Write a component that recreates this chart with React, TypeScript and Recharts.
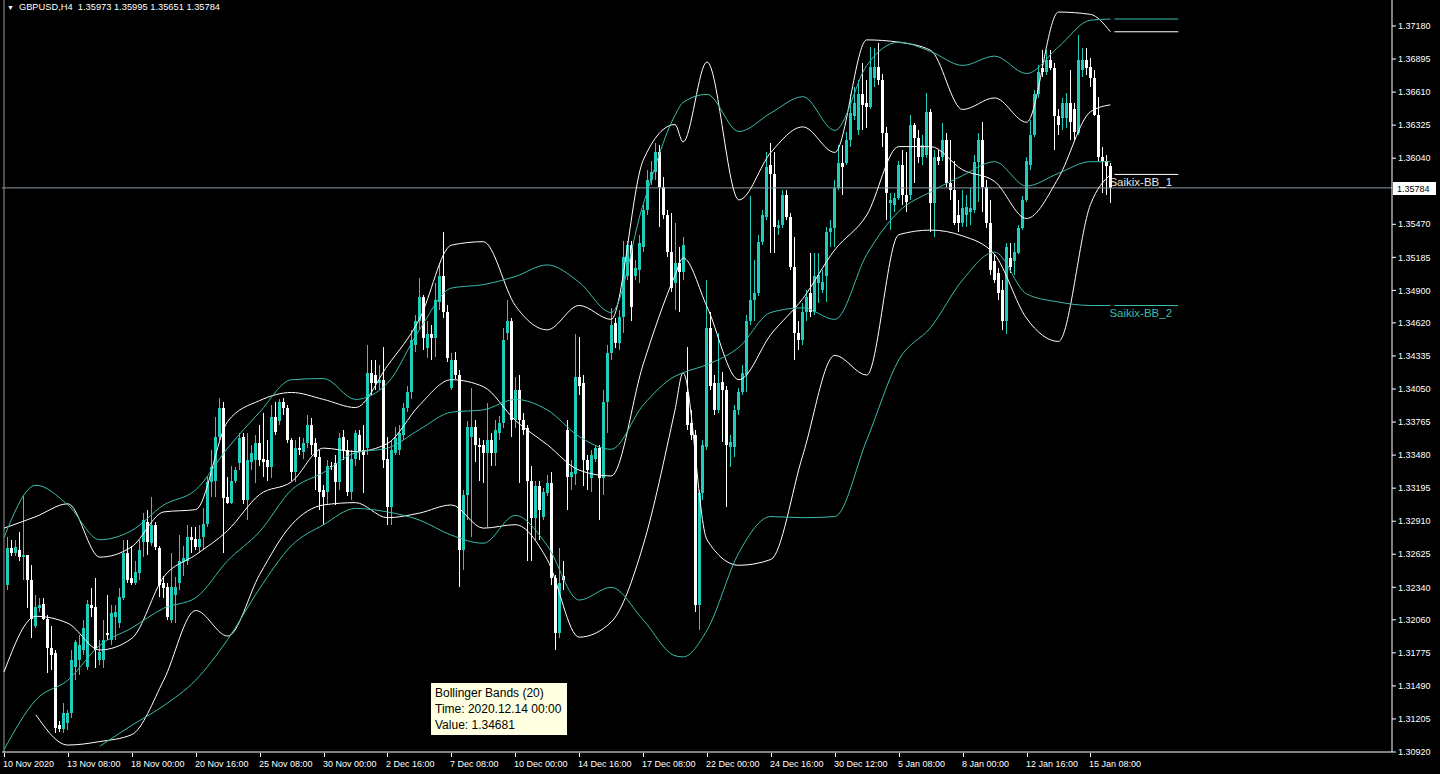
import { ComposedChart, Bar, Line, XAxis, YAxis, ReferenceLine } from 'recharts'

const SYMBOL = 'GBPUSD,H4'
const TEAL = '#20cdbd'
const TEAL_LINE = '#3cbcae'
const WHITE = '#ffffff'
const PRICE_LINE = '#8e9aa6'

// H4 candles, 10 Nov 2020 -> 18 Jan 2021
const opens = [
  1.3236, 1.3268, 1.3264, 1.3266, 1.326, 1.3262, 1.324, 1.3201, 1.3216, 1.322,
  1.3207, 1.3182, 1.3177, 1.3115, 1.3112, 1.3117, 1.3126, 1.3165, 1.3171, 1.318,
  1.3165, 1.3219, 1.3217, 1.3171, 1.3171, 1.3195, 1.3189, 1.3208, 1.3203, 1.3225,
  1.3264, 1.3242, 1.3238, 1.3246, 1.3273, 1.329, 1.3272, 1.3288, 1.3268, 1.3238,
  1.3234, 1.3206, 1.3227, 1.3238, 1.3256, 1.3257, 1.3277, 1.3276, 1.3269, 1.3277,
  1.3289, 1.3325, 1.3326, 1.3364, 1.3389, 1.3312, 1.3307, 1.3326, 1.3341, 1.3364,
  1.3309, 1.3342, 1.3344, 1.3358, 1.3345, 1.3344, 1.3338, 1.3381, 1.3377, 1.3394,
  1.3389, 1.3361, 1.3333, 1.3354, 1.3351, 1.3358, 1.3374, 1.3358, 1.3346, 1.3318,
  1.3316, 1.3339, 1.3341, 1.3325, 1.3364, 1.3352, 1.3316, 1.3345, 1.3365, 1.3352,
  1.3354, 1.3419, 1.3417, 1.341, 1.3413, 1.3345, 1.3303, 1.335, 1.3352, 1.3365,
  1.3389, 1.3402, 1.3443, 1.3464, 1.3484, 1.344, 1.3452, 1.3449, 1.348, 1.3502,
  1.3471, 1.3406, 1.343, 1.3417, 1.3266, 1.3314, 1.3364, 1.3372, 1.3357, 1.3357,
  1.335, 1.3361, 1.335, 1.3367, 1.3376, 1.3453, 1.3464, 1.3378, 1.3404, 1.3378,
  1.3371, 1.3326, 1.3294, 1.3321, 1.3295, 1.3315, 1.3324, 1.3242, 1.3195, 1.3244,
  1.337, 1.3329, 1.3332, 1.3415, 1.341, 1.3344, 1.3328, 1.3345, 1.3354, 1.3328,
  1.3394, 1.3436, 1.3462, 1.3445, 1.3467, 1.3502, 1.3529, 1.3502, 1.3508, 1.3527,
  1.3559, 1.3585, 1.3592, 1.3609, 1.3579, 1.3555, 1.3523, 1.3496, 1.3514, 1.3506,
  1.3402, 1.3376, 1.3365, 1.3219, 1.3315, 1.3355, 1.3458, 1.341, 1.3387, 1.3411,
  1.3404, 1.3355, 1.3355, 1.3387, 1.3402, 1.3417, 1.3464, 1.3482, 1.3488, 1.3532,
  1.3553, 1.3598, 1.359, 1.3544, 1.3546, 1.3572, 1.3553, 1.351, 1.3453, 1.3447,
  1.3471, 1.3488, 1.3471, 1.3496, 1.349, 1.3502, 1.354, 1.3544, 1.3578, 1.36,
  1.36, 1.362, 1.364, 1.3628, 1.3659, 1.3652, 1.3648, 1.3673, 1.3683, 1.3671,
  1.3626, 1.3565, 1.3564, 1.357, 1.3598, 1.3572, 1.3572, 1.3633, 1.3621, 1.3605,
  1.3607, 1.3644, 1.3565, 1.3605, 1.3605, 1.362, 1.3583, 1.3577, 1.3555, 1.3548,
  1.3555, 1.3558, 1.3559, 1.3601, 1.362, 1.3579, 1.3548, 1.3515, 1.3505, 1.349,
  1.3464, 1.3518, 1.3515, 1.3522, 1.3544, 1.3568, 1.3598, 1.3624, 1.3659, 1.3682,
  1.3678, 1.3689, 1.3682, 1.364, 1.3639, 1.3639, 1.3652, 1.3646, 1.3626, 1.368,
  1.3689, 1.3683, 1.3673, 1.3641, 1.3605, 1.3602, 1.35973,
]
const highs = [
  1.3277, 1.3275, 1.3275, 1.3282, 1.3313, 1.3262, 1.3253, 1.3227, 1.3225, 1.3225,
  1.321, 1.3201, 1.318, 1.3119, 1.3134, 1.3128, 1.318, 1.3189, 1.3193, 1.3206,
  1.3223, 1.3233, 1.3242, 1.3189, 1.3206, 1.3227, 1.3219, 1.3219, 1.3233, 1.3275,
  1.3275, 1.327, 1.3257, 1.3275, 1.3298, 1.3301, 1.3312, 1.329, 1.327, 1.3244,
  1.3238, 1.3264, 1.3243, 1.3279, 1.327, 1.3288, 1.3286, 1.3286, 1.3288, 1.3302,
  1.3329, 1.3352, 1.3381, 1.3397, 1.3394, 1.3329, 1.3339, 1.3338, 1.3367, 1.3367,
  1.3367, 1.3357, 1.3365, 1.3374, 1.3384, 1.3361, 1.3391, 1.3394, 1.3396, 1.3397,
  1.3391, 1.3363, 1.3361, 1.3364, 1.3363, 1.3383, 1.338, 1.3363, 1.3352, 1.3322,
  1.3344, 1.3342, 1.3348, 1.3367, 1.337, 1.3361, 1.3352, 1.337, 1.337, 1.3374,
  1.3443, 1.343, 1.343, 1.3426, 1.3441, 1.3364, 1.3361, 1.3372, 1.3374, 1.3393,
  1.3408, 1.3456, 1.3469, 1.3501, 1.3486, 1.3464, 1.346, 1.3496, 1.3514, 1.354,
  1.3477, 1.3436, 1.3437, 1.3421, 1.3318, 1.3377, 1.3406, 1.3378, 1.3363, 1.3361,
  1.3393, 1.3367, 1.3378, 1.3382, 1.3458, 1.3482, 1.3466, 1.3415, 1.3417, 1.3384,
  1.3374, 1.3339, 1.3326, 1.3326, 1.332, 1.3331, 1.3333, 1.3245, 1.3268, 1.3257,
  1.3378, 1.3344, 1.3452, 1.345, 1.3417, 1.3348, 1.3352, 1.3357, 1.3357, 1.3404,
  1.3443, 1.3475, 1.3466, 1.3473, 1.3533, 1.3533, 1.3533, 1.3516, 1.3538, 1.3564,
  1.3594, 1.3602, 1.3617, 1.3615, 1.3588, 1.3559, 1.3557, 1.3548, 1.3527, 1.3536,
  1.3441, 1.3387, 1.337, 1.3318, 1.3361, 1.3499, 1.3471, 1.3417, 1.3453, 1.342,
  1.3408, 1.3365, 1.3391, 1.3406, 1.3426, 1.3469, 1.3571, 1.3516, 1.3538, 1.3559,
  1.3609, 1.3617, 1.3609, 1.3551, 1.3577, 1.3577, 1.3557, 1.3536, 1.3464, 1.3479,
  1.349, 1.3522, 1.3522, 1.3522, 1.3508, 1.3545, 1.3551, 1.3585, 1.3615, 1.3615,
  1.3627, 1.3659, 1.3665, 1.3671, 1.3686, 1.3671, 1.37, 1.3699, 1.3703, 1.3677,
  1.3631, 1.3574, 1.3574, 1.3602, 1.3611, 1.3609, 1.3641, 1.3634, 1.3628, 1.3624,
  1.366, 1.3646, 1.3611, 1.3611, 1.3634, 1.3626, 1.362, 1.3602, 1.3568, 1.3577,
  1.3572, 1.3578, 1.3607, 1.3626, 1.3635, 1.3585, 1.3568, 1.3521, 1.3509, 1.3499,
  1.3531, 1.3531, 1.3531, 1.3546, 1.3571, 1.3605, 1.3637, 1.3663, 1.3684, 1.3697,
  1.3697, 1.3697, 1.3686, 1.3646, 1.3656, 1.366, 1.368, 1.3652, 1.371, 1.3699,
  1.3699, 1.369, 1.368, 1.3657, 1.3614, 1.3607, 1.35995,
]
const lows = [
  1.3232, 1.3261, 1.3261, 1.3257, 1.324, 1.3216, 1.319, 1.3199, 1.3213, 1.3206,
  1.316, 1.3163, 1.3108, 1.3109, 1.3108, 1.3111, 1.3121, 1.3154, 1.3158, 1.3176,
  1.3163, 1.3208, 1.3164, 1.3167, 1.3164, 1.3189, 1.3184, 1.3189, 1.3199, 1.3223,
  1.3238, 1.3236, 1.3236, 1.324, 1.326, 1.3262, 1.327, 1.3266, 1.3226, 1.3225,
  1.3206, 1.3203, 1.3203, 1.3232, 1.3244, 1.3253, 1.3264, 1.3266, 1.3264, 1.3266,
  1.3286, 1.3312, 1.3312, 1.3361, 1.3264, 1.3306, 1.3306, 1.3324, 1.3335, 1.3306,
  1.3292, 1.3335, 1.3324, 1.3339, 1.3329, 1.3326, 1.3328, 1.3365, 1.3374, 1.3383,
  1.3358, 1.3326, 1.3325, 1.3348, 1.3345, 1.3354, 1.3348, 1.3318, 1.3301, 1.3288,
  1.3305, 1.3335, 1.3305, 1.3318, 1.3344, 1.3313, 1.3309, 1.3339, 1.3344, 1.3315,
  1.3348, 1.34, 1.3404, 1.3404, 1.3337, 1.3288, 1.3288, 1.3348, 1.3348, 1.3361,
  1.3385, 1.3396, 1.3437, 1.3456, 1.3439, 1.3432, 1.343, 1.3433, 1.3473, 1.3466,
  1.3428, 1.3404, 1.3414, 1.3234, 1.3249, 1.3292, 1.3277, 1.3342, 1.3326, 1.3324,
  1.3286, 1.3339, 1.3339, 1.3361, 1.3371, 1.3447, 1.3364, 1.3371, 1.3324, 1.3365,
  1.3257, 1.3257, 1.3275, 1.3275, 1.3292, 1.3313, 1.3236, 1.318, 1.319, 1.3232,
  1.3301, 1.3318, 1.3322, 1.34, 1.3321, 1.3318, 1.3316, 1.3342, 1.3292, 1.3314,
  1.3367, 1.343, 1.344, 1.3439, 1.3453, 1.3499, 1.3464, 1.3499, 1.3496, 1.3523,
  1.3555, 1.3581, 1.3585, 1.3545, 1.3552, 1.3519, 1.3489, 1.3473, 1.3471, 1.3499,
  1.337, 1.3361, 1.3213, 1.3197, 1.3309, 1.3352, 1.3404, 1.3383, 1.3384, 1.3359,
  1.3303, 1.3338, 1.3346, 1.3383, 1.34, 1.3402, 1.346, 1.3464, 1.3485, 1.3529,
  1.3551, 1.3522, 1.3522, 1.3538, 1.3544, 1.3551, 1.3508, 1.343, 1.3439, 1.3443,
  1.3464, 1.3467, 1.3469, 1.3479, 1.3488, 1.348, 1.3527, 1.3527, 1.3577, 1.3572,
  1.3598, 1.3614, 1.3637, 1.3624, 1.3628, 1.363, 1.3646, 1.3665, 1.3667, 1.3614,
  1.3551, 1.3542, 1.3558, 1.3568, 1.3564, 1.3558, 1.3568, 1.3583, 1.36, 1.3598,
  1.3604, 1.354, 1.3536, 1.3598, 1.3602, 1.3579, 1.3568, 1.3546, 1.354, 1.3545,
  1.3545, 1.3546, 1.3557, 1.3566, 1.3558, 1.3544, 1.3503, 1.3496, 1.3482, 1.3456,
  1.3452, 1.3505, 1.3503, 1.3521, 1.3542, 1.3566, 1.3594, 1.3622, 1.3656, 1.3674,
  1.3676, 1.368, 1.3611, 1.3624, 1.3628, 1.363, 1.362, 1.362, 1.3624, 1.3674,
  1.3676, 1.3665, 1.364, 1.3602, 1.3574, 1.3572, 1.35651,
]
const closes = [
  1.3268, 1.3264, 1.3269, 1.326, 1.3262, 1.324, 1.3207, 1.3217, 1.3219, 1.3207,
  1.3182, 1.3176, 1.3113, 1.3112, 1.3126, 1.3126, 1.3171, 1.3187, 1.3184, 1.3199,
  1.322, 1.3216, 1.318, 1.3178, 1.3189, 1.3193, 1.3212, 1.3213, 1.3226, 1.3264,
  1.324, 1.3238, 1.3247, 1.3266, 1.3292, 1.3273, 1.3288, 1.3269, 1.3236, 1.3233,
  1.3208, 1.3234, 1.3234, 1.3257, 1.3259, 1.3277, 1.3275, 1.3269, 1.3276, 1.3289,
  1.3325, 1.3338, 1.3364, 1.3389, 1.3311, 1.3307, 1.3326, 1.3335, 1.3363, 1.3309,
  1.3344, 1.335, 1.3358, 1.3344, 1.3342, 1.3338, 1.3381, 1.3368, 1.3394, 1.3389,
  1.3361, 1.3333, 1.3354, 1.3352, 1.3358, 1.3374, 1.3357, 1.3346, 1.3316, 1.3312,
  1.3339, 1.3338, 1.3325, 1.3363, 1.3352, 1.3316, 1.3345, 1.3367, 1.3351, 1.3348,
  1.3419, 1.341, 1.341, 1.3413, 1.3344, 1.3303, 1.3352, 1.3363, 1.3367, 1.3389,
  1.3402, 1.3447, 1.3464, 1.3484, 1.3449, 1.3452, 1.3449, 1.3482, 1.3502, 1.3471,
  1.3432, 1.343, 1.3417, 1.3266, 1.3314, 1.3372, 1.3372, 1.3357, 1.3355, 1.335,
  1.3361, 1.335, 1.337, 1.3376, 1.3447, 1.3464, 1.3378, 1.3404, 1.3378, 1.337,
  1.3326, 1.3294, 1.3321, 1.3301, 1.3316, 1.3324, 1.3242, 1.3195, 1.3238, 1.324,
  1.3329, 1.3333, 1.3415, 1.3408, 1.3344, 1.3335, 1.3348, 1.3354, 1.3328, 1.3394,
  1.3436, 1.346, 1.3445, 1.3467, 1.3519, 1.3529, 1.3476, 1.3509, 1.3531, 1.3559,
  1.3585, 1.3592, 1.3609, 1.3579, 1.3555, 1.3523, 1.3492, 1.3514, 1.3506, 1.3529,
  1.3374, 1.3365, 1.3219, 1.3315, 1.3357, 1.3458, 1.3408, 1.3387, 1.341, 1.3404,
  1.3357, 1.3359, 1.3387, 1.3402, 1.3419, 1.3464, 1.3482, 1.3488, 1.3532, 1.3555,
  1.3596, 1.359, 1.3545, 1.3546, 1.3572, 1.3553, 1.351, 1.3453, 1.3447, 1.3471,
  1.3484, 1.3471, 1.3502, 1.3503, 1.3497, 1.354, 1.3544, 1.3578, 1.36, 1.3596,
  1.362, 1.3643, 1.3652, 1.3659, 1.365, 1.3648, 1.3683, 1.3683, 1.3671, 1.3626,
  1.3574, 1.3568, 1.357, 1.3598, 1.3572, 1.3566, 1.3633, 1.3621, 1.3605, 1.3615,
  1.3644, 1.3565, 1.3605, 1.3602, 1.362, 1.3583, 1.3577, 1.3548, 1.3548, 1.3561,
  1.3562, 1.3561, 1.3601, 1.362, 1.3579, 1.3548, 1.3508, 1.3499, 1.3488, 1.3464,
  1.3527, 1.351, 1.3523, 1.3544, 1.3568, 1.3602, 1.3624, 1.3659, 1.3678, 1.3678,
  1.3689, 1.3682, 1.364, 1.3633, 1.3652, 1.3652, 1.3635, 1.3627, 1.3689, 1.3689,
  1.3682, 1.3673, 1.3641, 1.3605, 1.3602, 1.3597, 1.35784,
]

// bottom axis labels, one every 16 bars
const timeLabels = [
  '10 Nov 2020', '13 Nov 08:00', '18 Nov 00:00', '20 Nov 16:00', '25 Nov 08:00',
  '30 Nov 00:00', '2 Dec 16:00', '7 Dec 08:00', '10 Dec 00:00', '14 Dec 16:00',
  '17 Dec 08:00', '22 Dec 00:00', '24 Dec 16:00', '30 Dec 12:00', '5 Jan 08:00',
  '8 Jan 00:00', '12 Jan 16:00', '15 Jan 08:00',
]
const priceTicks = [
  1.3718, 1.36895, 1.3661, 1.36325, 1.3604, 1.3547, 1.35185, 1.349, 1.3462, 1.34335,
  1.3405, 1.33765, 1.3348, 1.33195, 1.3291, 1.32625, 1.3234, 1.3206, 1.31775, 1.3149,
  1.31205, 1.3092,
]

// Bollinger bands, read every 8th bar (plus the turn on 21 Dec)
const bandT = [
  0, 8, 16, 24, 32, 40, 48, 56, 64, 72, 80, 88, 96, 104, 112, 120, 128, 136,
  144, 152, 160, 168, 170, 176, 184, 192, 200, 208, 216, 224, 232, 240, 248, 256, 264, 272, 277,
]
const bb1Upper = [
  1.3285, 1.3295, 1.3306, 1.326, 1.3269, 1.3299, 1.3301, 1.3377, 1.3395, 1.3402, 1.3396, 1.3389,
  1.3425, 1.3465, 1.3529, 1.3532, 1.3477, 1.3456, 1.3477, 1.3465, 1.3602, 1.3633, 1.3618, 1.3687,
  1.3568, 1.3609, 1.3631, 1.3609, 1.3706, 1.3704, 1.3697, 1.3646, 1.3656, 1.3635, 1.373, 1.3728,
  1.3713,
]
const bb1Middle = [
  1.3161, 1.3209, 1.3203, 1.318, 1.319, 1.3243, 1.3262, 1.3283, 1.3314, 1.3325, 1.3354, 1.3351,
  1.3358, 1.3391, 1.3413, 1.3407, 1.3378, 1.3357, 1.3335, 1.333, 1.3426, 1.3503, 1.3518, 1.3476,
  1.3413, 1.3452, 1.3483, 1.3525, 1.3555, 1.3614, 1.3614, 1.3594, 1.3584, 1.3552, 1.3587, 1.3644,
  1.365,
]
const bb1Lower = [
  null, 1.3124, 1.3098, 1.3101, 1.3107, 1.3154, 1.3214, 1.3192, 1.3245, 1.3288, 1.3305, 1.3307,
  1.3294, 1.3298, 1.3305, 1.3285, 1.3288, 1.3258, 1.3191, 1.3204, 1.327, 1.3387, 1.3419, 1.3275,
  1.3253, 1.3258, 1.3348, 1.3434, 1.3417, 1.3538, 1.3542, 1.3537, 1.3521, 1.3466, 1.3446, 1.3564,
  1.359,
]
const bb2Upper = [
  1.3277, 1.3322, 1.3305, 1.3275, 1.3283, 1.3305, 1.3318, 1.3354, 1.3385, 1.3413, 1.3414, 1.3396,
  1.341, 1.3456, 1.3492, 1.3495, 1.3502, 1.3512, 1.3497, 1.3471, 1.3564, 1.3641, 1.3652, 1.3659,
  1.3627, 1.3643, 1.3657, 1.3628, 1.3684, 1.3704, 1.3696, 1.3684, 1.3692, 1.3677, 1.37, 1.3723,
  1.3724,
]
const bb2Middle = [
  1.3094, 1.3137, 1.3154, 1.3184, 1.3199, 1.3216, 1.3225, 1.3257, 1.3282, 1.3318, 1.3333, 1.335,
  1.3354, 1.337, 1.3385, 1.3387, 1.3396, 1.3387, 1.3364, 1.3353, 1.3391, 1.3416, 1.3419, 1.3426,
  1.3441, 1.3471, 1.3475, 1.3465, 1.3521, 1.3558, 1.3575, 1.3589, 1.3601, 1.358, 1.3591, 1.3601,
  1.3601,
]
const bb2Lower = [
  null, null, null, 1.3097, 1.3115, 1.3132, 1.3154, 1.3189, 1.3233, 1.327, 1.3288, 1.3302,
  1.3299, 1.3292, 1.3279, 1.3272, 1.3296, 1.327, 1.3223, 1.3234, 1.3206, 1.3175, 1.3174, 1.3197,
  1.3264, 1.3295, 1.3294, 1.3295, 1.3361, 1.343, 1.3458, 1.3499, 1.3523, 1.3487, 1.348, 1.3477,
  1.3477,
]

const SLOTS = 348 // bar slots across the plot, incl. empty space right of the last bar
const FIRST_BAR = 1
const TAG_FROM = 278
const TAG_TO = 294
const last = closes.length - 1
const fmt = (v: number) => v.toFixed(5)

const BANDS = [
  { key: 'bu', values: bb1Upper, color: WHITE },
  { key: 'bm', values: bb1Middle, color: WHITE },
  { key: 'bl', values: bb1Lower, color: WHITE },
  { key: 'tu', values: bb2Upper, color: TEAL_LINE },
  { key: 'tm', values: bb2Middle, color: TEAL_LINE },
  { key: 'tl', values: bb2Lower, color: TEAL_LINE },
]

const rows = Array.from({ length: SLOTS }, (_, t) => {
  const row: Record<string, any> = { t }
  const i = t - FIRST_BAR
  if (i >= 0 && i < closes.length) {
    row.o = opens[i]
    row.h = highs[i]
    row.l = lows[i]
    row.c = closes[i]
    row.range = [lows[i], highs[i]]
  }
  const b = bandT.indexOf(t)
  if (b >= 0) BANDS.forEach(band => { row[band.key] = band.values[b] })
  return row
})

const timeTicks = timeLabels.map((_, k) => k * 16)

const Candle = (props: any) => {
  const { x, y, width, height, payload } = props
  if (!payload || payload.o == null) return null
  const { o, h, l, c } = payload
  const top = Math.min(y, y + height)
  const bot = Math.max(y, y + height)
  const k = (bot - top) / (h - l || 1)
  const py = (p: number) => top + (h - p) * k
  const cx = Math.round(x + width / 2)
  const color = c >= o ? TEAL : WHITE
  const bTop = Math.round(py(Math.max(o, c)))
  const bBot = Math.round(py(Math.min(o, c)))
  return (
    <g shapeRendering="crispEdges">
      <line x1={cx + 0.5} x2={cx + 0.5} y1={Math.round(top)} y2={Math.round(bot)} stroke={color} />
      <rect x={cx - 1} y={bTop} width={3} height={Math.max(1, bBot - bTop)} fill={color} />
    </g>
  )
}

const TimeTick = ({ x, y, payload }: any) => {
  const label = timeLabels[Math.round(payload.value / 16)]
  if (!label) return null
  const px = Math.round(x)
  return (
    <g>
      <line x1={px + 0.5} x2={px + 0.5} y1={y + 1} y2={y + 5} stroke={WHITE} shapeRendering="crispEdges" />
      <text x={px - 1} y={y + 15} fill={WHITE} fontSize={9} textAnchor="start">
        {label}
      </text>
    </g>
  )
}

const priceTag = (props: any) => {
  const vb = props.viewBox ?? props
  const right = vb.x + vb.width
  const y = Math.round(vb.y)
  return (
    <g>
      <rect x={right + 1} y={y - 6} width={43} height={13} fill={WHITE} />
      <text x={right + 5} y={y + 4} fill="#000" fontSize={9}>
        {fmt(closes[last])}
      </text>
    </g>
  )
}

const sideLabel = (text: string, color: string) => (props: any) => {
  const vb = props.viewBox ?? props
  return (
    <text x={vb.x - 5} y={vb.y + 12} fill={color} fontSize={11.5}>
      {text}
    </text>
  )
}

const tagLine = (value: number) => [
  { x: TAG_FROM, y: value },
  { x: TAG_TO, y: value },
]

const App = () => {
  const header = `${SYMBOL}  ${fmt(opens[last])} ${fmt(highs[last])} ${fmt(lows[last])} ${fmt(closes[last])}`
  return (
    <div
      style={{
        position: 'absolute',
        left: 0,
        top: 0,
        width: 1440,
        height: 774,
        background: '#000',
        overflow: 'hidden',
        fontFamily: '"Liberation Sans", Arial, sans-serif',
      }}
    >
      <ComposedChart width={1440} height={774} data={rows} margin={{ top: 0, right: 0, bottom: 0, left: 2 }}>
        <XAxis
          dataKey="t"
          type="category"
          ticks={timeTicks}
          interval={0}
          tickSize={0}
          tickMargin={0}
          tickLine={false}
          axisLine={{ stroke: WHITE }}
          height={22}
          tick={<TimeTick />}
        />
        <YAxis
          orientation="right"
          width={48}
          domain={[1.3092, 1.37404]}
          allowDataOverflow
          ticks={priceTicks}
          interval={0}
          tickSize={4}
          tickMargin={2}
          tickLine={{ stroke: WHITE }}
          axisLine={{ stroke: WHITE }}
          tick={{ fill: WHITE, fontSize: 9 }}
          tickFormatter={(v: number) => fmt(v)}
        />
        <ReferenceLine x={0} stroke="#9a9a9a" />
        <ReferenceLine y={closes[last]} stroke={PRICE_LINE} label={priceTag} />
        <Bar dataKey="range" barSize={3} shape={(p: any) => <Candle {...p} />} isAnimationActive={false} />
        {BANDS.map(b => (
          <Line
            key={b.key}
            dataKey={b.key}
            type="monotone"
            stroke={b.color}
            strokeWidth={1}
            dot={false}
            activeDot={false}
            connectNulls
            isAnimationActive={false}
          />
        ))}
        <ReferenceLine segment={tagLine(bb2Upper[bb2Upper.length - 1])} stroke={TEAL_LINE} />
        <ReferenceLine segment={tagLine(bb1Upper[bb1Upper.length - 1])} stroke={WHITE} />
        <ReferenceLine
          segment={tagLine(bb1Lower[bb1Lower.length - 1] as number)}
          stroke={WHITE}
          label={sideLabel('Saikix-BB_1', '#e8e8e8')}
        />
        <ReferenceLine
          segment={tagLine(bb2Lower[bb2Lower.length - 1] as number)}
          stroke={TEAL_LINE}
          label={sideLabel('Saikix-BB_2', TEAL_LINE)}
        />
      </ComposedChart>

      <div
        style={{
          position: 'absolute',
          left: 7,
          top: 1,
          color: WHITE,
          fontSize: 9.3,
          lineHeight: '12px',
          whiteSpace: 'pre',
        }}
      >
        <span style={{ fontSize: 7, marginRight: 5 }}>▼</span>
        {header}
      </div>

      <div
        style={{
          position: 'absolute',
          left: 431,
          top: 683,
          width: 136,
          height: 52,
          boxSizing: 'border-box',
          padding: '2px 4px',
          background: '#ffffe1',
          color: '#000',
          fontSize: 12,
          lineHeight: '16px',
          whiteSpace: 'pre',
        }}
      >
        <div>Bollinger Bands (20)</div>
        <div>Time: 2020.12.14 00:00</div>
        <div>Value: 1.34681</div>
      </div>
    </div>
  )
}

export default App
